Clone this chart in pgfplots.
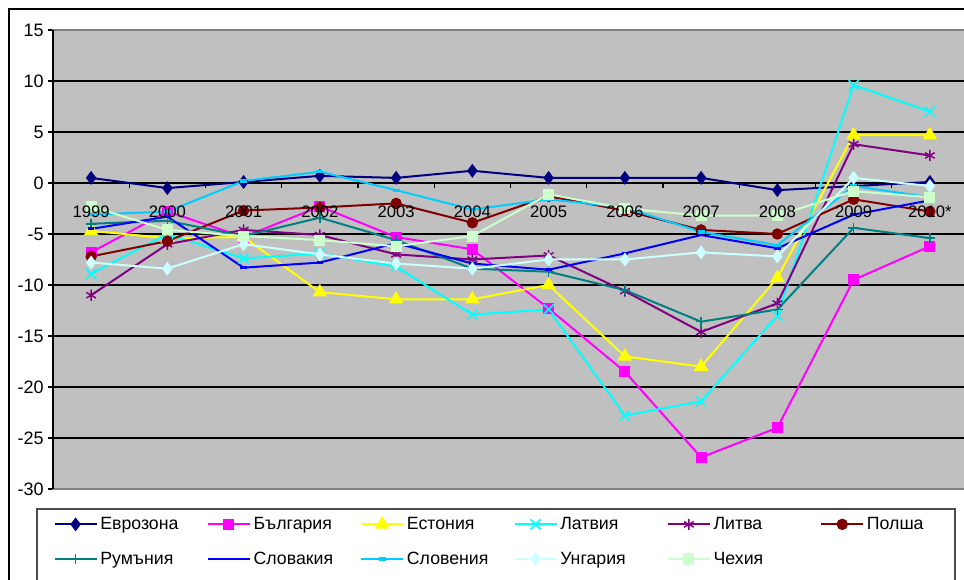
\documentclass[border=0pt]{standalone}
\usepackage{pgfplots}
\pgfplotsset{compat=1.18}
\usepackage{pgfplotstable}
\usepackage{fontspec}
\setmainfont{Liberation Sans}

\definecolor{plotgray}{HTML}{C0C0C0}
\definecolor{cEZ}{HTML}{000080}
\definecolor{cBG}{HTML}{FF00FF}
\definecolor{cEE}{HTML}{FFFF00}
\definecolor{cLV}{HTML}{00FFFF}
\definecolor{cLT}{HTML}{800080}
\definecolor{cPL}{HTML}{800000}
\definecolor{cRO}{HTML}{008080}
\definecolor{cSK}{HTML}{0000FF}
\definecolor{cSI}{HTML}{00CCFF}
\definecolor{cHU}{HTML}{CCFFFF}
\definecolor{cCZ}{HTML}{CCFFCC}

% short horizontal bar marker
\pgfdeclareplotmark{hbar}{%
  \pgfpathrectangle{\pgfqpoint{-\pgfplotmarksize}{-.45\pgfplotmarksize}}%
                   {\pgfqpoint{2\pgfplotmarksize}{.9\pgfplotmarksize}}%
  \pgfusepathqfill}

% shared geometry of the plot area
\pgfplotsset{
  plotarea/.style={
    at={(39.75pt,67.5pt)}, anchor=south west,
    scale only axis, width=686.25pt, height=344.25pt,
    xmin=-0.5, xmax=11.5, ymin=-30, ymax=15,
  },
}

% 1999 ... 2010* at positions 0 ... 11
\pgfplotstableread{
i  EZ    BG     EE     LV     LT     PL    RO     SK    SI    HU    CZ
0  0.5   -6.8   -4.7   -8.9   -11.0  -7.2  -4.0   -4.5  -3.1  -7.8  -2.3
1  -0.5  -2.8   -5.4   -5.0   -6.0   -5.7  -3.7   -3.3  -2.8  -8.4  -4.6
2  0.1   -5.3   -5.3   -7.4   -4.6   -2.7  -5.2   -8.3  0.2   -6.0  -5.2
3  0.7   -2.3   -10.7  -6.9   -5.1   -2.4  -3.4   -7.8  1.1   -7.0  -5.6
4  0.5   -5.3   -11.4  -8.2   -7.0   -2.0  -5.6   -5.9  -0.7  -7.9  -6.2
5  1.2   -6.5   -11.4  -12.9  -7.5   -3.9  -8.4   -7.9  -2.6  -8.4  -5.2
6  0.5   -12.3  -10.0  -12.4  -7.1   -1.3  -8.7   -8.5  -1.6  -7.5  -1.1
7  0.5   -18.5  -17.0  -22.8  -10.6  -2.7  -10.5  -6.9  -2.4  -7.5  -2.5
8  0.5   -26.9  -18.0  -21.4  -14.6  -4.6  -13.6  -5.1  -4.8  -6.8  -3.2
9  -0.7  -24.0  -9.3   -13.0  -11.8  -5.0  -12.4  -6.4  -6.1  -7.2  -3.2
10 -0.3  -9.5   4.7    9.6    3.8    -1.6  -4.4   -3.1  -0.3  0.5   -0.8
11 0.1   -6.2   4.7    7.0    2.7    -2.8  -5.4   -1.7  -1.4  -0.3  -1.4
}\gdp

\begin{document}
\begin{tikzpicture}
\path[use as bounding box, clip] (0pt,0pt) rectangle (723pt,434.25pt);
\fill[white] (0pt,0pt) rectangle (723pt,434.25pt);
% chart frame
\draw[black, line width=0.8pt] (6.75pt,-20pt) rectangle (760pt,427.5pt);
% legend frame
\draw[black!70, line width=0.8pt] (27.75pt,-20pt) rectangle (716.25pt,52.5pt);
\begin{axis}[
  plotarea,
  axis background/.style={fill=plotgray},
  axis x line*=middle, axis y line*=left,
  axis line style={black, line width=0.8pt},
  xtick={-0.5,0.5,...,11.5}, xticklabels={},
  xtick align=outside, ytick align=outside,
  major tick length=3.5pt,
  tick style={black, line width=0.8pt},
  ytick={-30,-25,...,15},
  yticklabel style={font=\fontsize{13.5}{15}\selectfont},
  /pgf/number format/assume math mode=true,
  ymajorgrids, major grid style={black, line width=0.8pt},
  every axis plot/.append style={line width=1.5pt},
  legend columns=6,
  legend style={at={(axis description cs:0,0)}, anchor=north west,
    xshift=-2.75pt, yshift=-17pt, draw=none, fill=none,
    font=\fontsize{13.3}{15}\selectfont, row sep=11.25pt,
    /tikz/every even column/.append style={column sep=0pt}},
  legend cell align=left,
  legend image code/.code={%
    \draw[mark repeat=2, mark phase=2, line width=1.5pt]
      plot coordinates {(0pt,0pt) (15.75pt,0pt) (31.5pt,0pt)};},
  after end axis/.code={%
    \draw[black!50, line width=1.1pt] (rel axis cs:0,0) rectangle (rel axis cs:1,1);
    \draw[black, line width=0.8pt] (rel axis cs:0,0) -- (rel axis cs:0,1);},
]
\addplot[cEZ, mark=diamond*, mark size=4pt] table[x=i, y=EZ] {\gdp};
\addlegendentry{\makebox[78pt][l]{Еврозона}}
\addplot[cBG, mark=square*, mark size=3.4pt] table[x=i, y=BG] {\gdp};
\addlegendentry{\makebox[78pt][l]{България}}
\addplot[cEE, mark=triangle*, mark size=4.8pt] table[x=i, y=EE] {\gdp};
\addlegendentry{\makebox[78pt][l]{Естония}}
\addplot[cLV, mark=x, mark size=5.4pt, mark options={line width=1.2pt}] table[x=i, y=LV] {\gdp};
\addlegendentry{\makebox[78pt][l]{Латвия}}
\addplot[cLT, mark=asterisk, mark size=4.2pt, mark options={line width=1.1pt}] table[x=i, y=LT] {\gdp};
\addlegendentry{\makebox[78pt][l]{Литва}}
\addplot[cPL, mark=*, mark size=3.5pt] table[x=i, y=PL] {\gdp};
\addlegendentry{\makebox[40pt][l]{Полша}}
\addplot[cRO, mark=+, mark size=3.9pt, mark options={line width=1.1pt}] table[x=i, y=RO] {\gdp};
\addlegendentry{\makebox[78pt][l]{Румъния}}
\addplot[cSK, mark=hbar, mark size=2.4pt] table[x=i, y=SK] {\gdp};
\addlegendentry{\makebox[78pt][l]{Словакия}}
\addplot[cSI, mark=hbar, mark size=2.6pt] table[x=i, y=SI] {\gdp};
\addlegendentry{\makebox[78pt][l]{Словения}}
\addplot[cHU, mark=diamond*, mark size=4pt] table[x=i, y=HU] {\gdp};
\addlegendentry{\makebox[78pt][l]{Унгария}}
\addplot[cCZ, mark=square*, mark size=3.4pt] table[x=i, y=CZ] {\gdp};
\addlegendentry{\makebox[78pt][l]{Чехия}}
\end{axis}
% category labels on the zero line, set above the series
\begin{axis}[
  plotarea,
  axis x line*=middle, axis y line=none,
  axis line style={draw=none},
  xtick={0,1,...,11},
  xticklabels={1999,2000,2001,2002,2003,2004,2005,2006,2007,2008,2009,2010*},
  major tick length=0pt, tick style={draw=none},
  xticklabel style={font=\fontsize{12.5}{14}\selectfont, yshift=-13.4pt},
]
\end{axis}
\end{tikzpicture}
\end{document}
